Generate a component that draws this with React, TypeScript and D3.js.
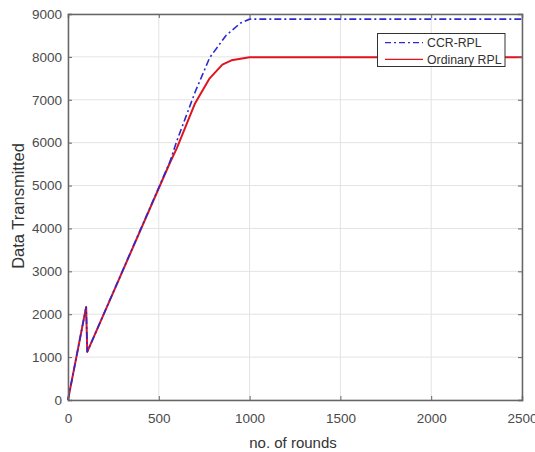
import React, { useEffect, useRef } from 'react';
import * as d3 from 'd3';

// rounds / data transmitted
const ordinaryRounds = [0, 100, 106, 560, 600, 700, 780, 850, 900, 1000, 2500];
const ordinaryData = [0, 2170, 1120, 5520, 5880, 6920, 7500, 7820, 7920, 7990, 7990];
const ccrRounds = [0, 100, 106, 560, 600, 700, 780, 870, 950, 1000, 2500];
const ccrData = [0, 2170, 1120, 5540, 6050, 7180, 7980, 8500, 8790, 8880, 8880];
const xTicks = [0, 500, 1000, 1500, 2000, 2500];
const yTicks = [0, 1000, 2000, 3000, 4000, 5000, 6000, 7000, 8000, 9000];
const seriesNames = ['CCR-RPL', 'Ordinary RPL'];

const W = 535;
const H = 452;

export default function App() {
  const ref = useRef<SVGSVGElement>(null);

  useEffect(() => {
    const svg = d3.select(ref.current);
    svg.selectAll('*').remove();

    const left = 68, right = 522, top = 14, bottom = 400;
    const x = d3.scaleLinear().domain([0, 2500]).range([left, right]);
    const y = d3.scaleLinear().domain([0, 9000]).range([bottom, top]);
    const font = 'Liberation Sans, Arial, sans-serif';
    const axisColor = '#666';

    // grid
    const g = svg.append('g');
    g.selectAll('.vg').data(xTicks).enter().append('line')
      .attr('x1', d => x(d)).attr('x2', d => x(d))
      .attr('y1', top).attr('y2', bottom)
      .attr('stroke', '#e3e3e3').attr('stroke-width', 1);
    g.selectAll('.hg').data(yTicks).enter().append('line')
      .attr('x1', left).attr('x2', right)
      .attr('y1', d => y(d)).attr('y2', d => y(d))
      .attr('stroke', '#e3e3e3').attr('stroke-width', 1);

    // lines
    const line = d3.line<[number, number]>().x(d => x(d[0])).y(d => y(d[1]));
    const ordPts = ordinaryRounds.map((r, i) => [r, ordinaryData[i]] as [number, number]);
    const ccrPts = ccrRounds.map((r, i) => [r, ccrData[i]] as [number, number]);

    svg.append('path').attr('d', line(ordPts))
      .attr('fill', 'none').attr('stroke', '#e0141f').attr('stroke-width', 2)
      .attr('stroke-linejoin', 'round');
    svg.append('path').attr('d', line(ccrPts))
      .attr('fill', 'none').attr('stroke', '#2a2ad0').attr('stroke-width', 1.6)
      .attr('stroke-dasharray', '7,3,2,3');

    // axes
    const xAxis = d3.axisBottom(x).tickValues(xTicks).tickSize(-4).tickPadding(13)
      .tickFormat(d3.format('d'));
    const yAxis = d3.axisLeft(y).tickValues(yTicks).tickSize(-4).tickPadding(6)
      .tickFormat(d3.format('d'));
    const xa = svg.append('g').attr('transform', `translate(0,${bottom})`).call(xAxis);
    const ya = svg.append('g').attr('transform', `translate(${left},0)`).call(yAxis);
    const xt = svg.append('g').attr('transform', `translate(0,${top})`)
      .call(d3.axisTop(x).tickValues(xTicks).tickSize(-4).tickFormat(() => ''));
    const yr = svg.append('g').attr('transform', `translate(${right},0)`)
      .call(d3.axisRight(y).tickValues(yTicks).tickSize(-4).tickFormat(() => ''));
    [xa, ya, xt, yr].forEach(a => {
      a.select('.domain').attr('stroke', axisColor).attr('stroke-width', 1.5);
      a.selectAll('.tick line').attr('stroke', axisColor);
      a.selectAll('.tick text').attr('fill', '#4a4a4a')
        .style('font-family', font).style('font-size', '13.5px');
    });

    // axis titles
    svg.append('text').attr('x', 293).attr('y', 448)
      .attr('text-anchor', 'middle').attr('fill', '#333')
      .style('font-family', font).style('font-size', '15px').text('no. of rounds');
    svg.append('text')
      .attr('transform', `translate(24,206) rotate(-90)`)
      .attr('text-anchor', 'middle').attr('fill', '#333')
      .style('font-family', font).style('font-size', '16.5px').text('Data Transmitted');

    // legend
    const lg = svg.append('g');
    lg.append('rect').attr('x', 377.5).attr('y', 33.5).attr('width', 127.5).attr('height', 33)
      .attr('fill', '#fff').attr('stroke', '#333').attr('stroke-width', 1);
    const styles = [
      { c: '#2a2ad0', w: 1.3, dash: '6,3,2,3' },
      { c: '#e0141f', w: 1.3, dash: null },
    ];
    seriesNames.forEach((name, i) => {
      const yy = 42.7 + i * 16.6;
      const ln = lg.append('line').attr('x1', 385).attr('x2', 423).attr('y1', yy).attr('y2', yy)
        .attr('stroke', styles[i].c).attr('stroke-width', styles[i].w);
      if (styles[i].dash) ln.attr('stroke-dasharray', styles[i].dash);
      lg.append('text').attr('x', 427).attr('y', yy + 4.4).attr('fill', '#333')
        .style('font-family', font).style('font-size', '12.3px').text(name);
    });
  }, []);

  return (
    <svg ref={ref} width={W} height={H}
      style={{ position: 'absolute', left: 0, top: 0, background: '#fff' }} />
  );
}
